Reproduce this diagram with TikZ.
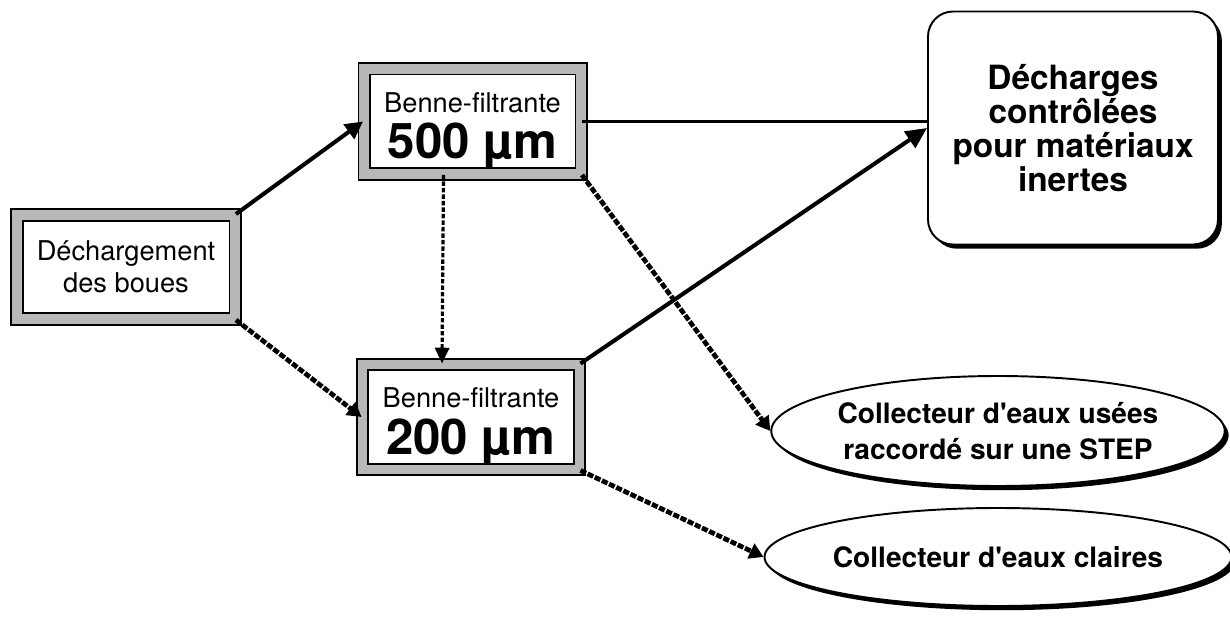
\documentclass[tikz,border=0pt]{standalone}
\usepackage{fontspec}
\setmainfont{TeX Gyre Heros}
\usetikzlibrary{arrows.meta,shapes.geometric,shadows}
\tikzset{
	benne/.style={draw=black, line width=1.1pt, double=black!28, double distance=5.2pt, fill=white,
		minimum width=4.34cm, minimum height=2.1cm, inner sep=0pt, align=center,
		font=\fontsize{15.5}{18}\selectfont},
	ombre/.style={drop shadow={shadow xshift=2.2pt, shadow yshift=-2.4pt, fill=black, opacity=1}},
	decharge/.style={draw=black, line width=1.1pt, fill=white, rounded corners=0.5cm, ombre,
		minimum width=5.8cm, minimum height=4.66cm, inner sep=0pt, align=center,
		font=\fontsize{19}{19.5}\selectfont\bfseries},
	collecteur/.style={ellipse, draw=black, line width=1.1pt, fill=white, ombre,
		minimum width=8.9cm, inner sep=0pt, align=center,
		font=\fontsize{16}{20.5}\selectfont\bfseries},
	fleche/.style={line width=2.3pt, -{Triangle[width=10pt,length=10pt]}},
	egout/.style={line width=2.7pt, dash pattern=on 3.5pt off 1pt, -{Triangle[width=9pt,length=8pt]}},
	tube/.style={line width=1.8pt, dash pattern=on 2.5pt off 1.2pt, -{Triangle[width=8pt,length=9pt]}},
}

\begin{document}
\begin{tikzpicture}
	\useasboundingbox (0,0) rectangle (24.6,12.52);
	
	% bennes
	\node[benne, minimum width=4.36cm, minimum height=2.08cm] (dech) at (2.52,7.18) {Déchargement\\des boues};
	\node[benne] (f500) at (9.45,10.09) {\rule{0pt}{22pt}Benne-filtrante\\[5pt]\fontsize{28}{30}\selectfont\bfseries 500 µm};
	\node[benne] (f200) at (9.42,4.18) {\rule{0pt}{22pt}Benne-filtrante\\[5pt]\fontsize{28}{30}\selectfont\bfseries 200 µm};
	
	% destinations
	\node[decharge] (dc) at (21.46,9.96) {Décharges\\contrôlées\\pour matériaux\\inertes};
	\node[collecteur, minimum height=2.2cm] (e1) at (19.96,3.9) {Collecteur d\textquotesingle eaux usées\\raccordé sur une STEP};
	\node[collecteur, minimum height=1.96cm] (e2) at (19.96,1.38) {Collecteur d\textquotesingle eaux claires};
	
	% matériaux retenus
	\draw[fleche] (dech.north east) -- (f500.west);
	\draw[line width=1.2pt] (f500.east) -- (f500.east -| dc.west);
	\draw[fleche, -{Triangle[width=11pt,length=12pt]}] (f200.north east) -- (dc.west);
	
	% eaux
	\draw[egout] (dech.south east) -- (f200.west);
	\draw[egout] (f500.south east) -- (e1.west);
	\draw[egout] (f200.south east) -- (e2.west);
	\draw[tube] ([xshift=-0.58cm]f500.south) -- ([xshift=-0.58cm]f200.north);
	
\end{tikzpicture}
\end{document}
